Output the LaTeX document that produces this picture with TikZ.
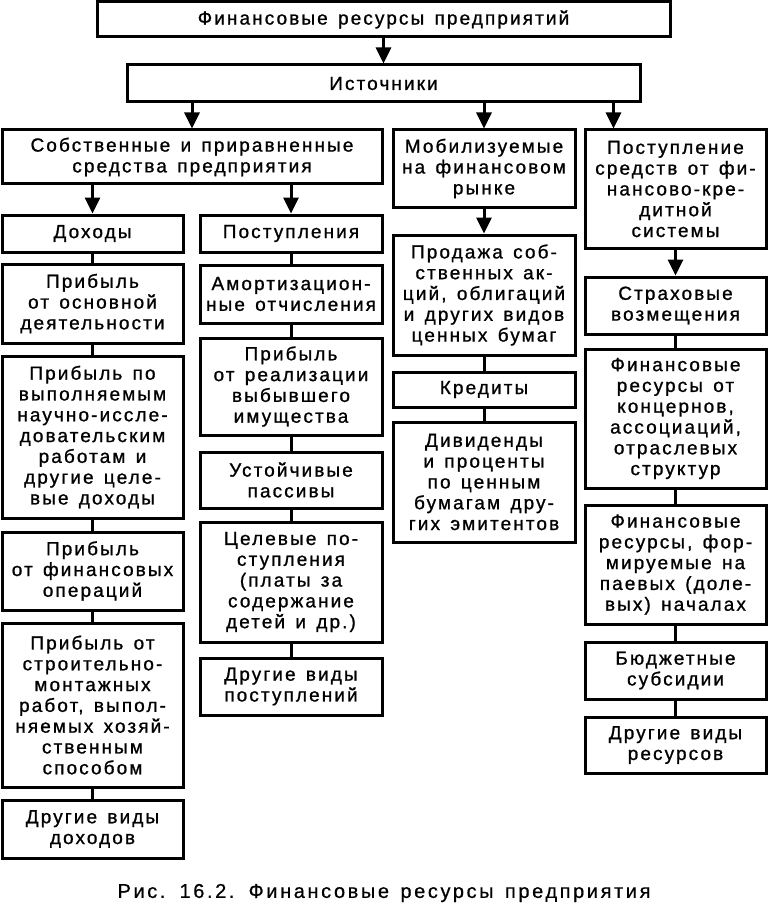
\documentclass[tikz,border=0pt]{standalone}
\usepackage{fontspec}
\setmainfont{Liberation Sans}
\newfontfamily\bodyfont{Liberation Sans}[LetterSpace=11, WordSpace=1.4, FakeBold=1]
\newfontfamily\capfont{Liberation Sans}[LetterSpace=13, WordSpace=1.4, FakeBold=0.6]
\usetikzlibrary{arrows.meta}
\tikzset{
  box/.style={draw, line width=3pt, align=center, inner sep=0pt,
    font=\bodyfont\fontsize{19}{20.8}\selectfont},
  conn/.style={line width=3pt},
  arr/.style={line width=3pt, -{Triangle[width=15pt,length=16pt]}},
  captext/.style={font=\capfont\fontsize{20}{22}\selectfont, inner sep=0pt}
}
\newcommand\bx[6]{\node[box, minimum width={(#4-#2)*1pt}, minimum height={(#5-#3)*1pt}] (#1) at ({(#2+#4)/2},{(#3+#5)/2}) {#6};}
\begin{document}
\begin{tikzpicture}[x=1pt,y=-1pt]
\useasboundingbox (0,0) rectangle (768,912);
\bx{top}{97}{2}{670}{37}{Финансовые ресурсы предприятий}
\bx{ist}{127}{65}{640}{102}{Источники}
\bx{sob}{2}{130}{382}{184}{Собственные и приравненные\\средства предприятия}
\bx{mob}{393}{130}{575}{207}{Мобилизуемые\\на финансовом\\рынке}
\bx{pst}{585}{130}{766}{248}{Поступление\\средств от фи-\\нансово-кре-\\дитной\\системы}
% column 1
\bx{doh}{2}{215}{183}{252}{Доходы}
\bx{pra}{2}{264}{183}{343}{Прибыль\\от основной\\деятельности}
\bx{prb}{2}{356}{183}{518}{Прибыль по\\выполняемым\\научно-иссле-\\довательским\\работам и\\другие целе-\\вые доходы}
\bx{prc}{2}{532}{183}{610}{Прибыль\\от финансовых\\операций}
\bx{prd}{2}{623}{183}{787}{Прибыль от\\строительно-\\монтажных\\работ, выпол-\\няемых хозяй-\\ственным\\способом}
\bx{dra}{2}{800}{183}{858}{Другие виды\\доходов}
% column 2
\bx{pos}{200}{215}{382}{252}{Поступления}
\bx{am}{200}{265}{382}{323}{Амортизацион-\\ные отчисления}
\bx{prr}{200}{338}{382}{435}{Прибыль\\от реализации\\выбывшего\\имущества}
\bx{ust}{200}{452}{382}{508}{Устойчивые\\пассивы}
\bx{cel}{200}{522}{382}{642}{Целевые по-\\ступления\\(платы за\\содержание\\детей и др.)}
\bx{drb}{200}{658}{382}{715}{Другие виды\\поступлений}
% column 3
\bx{prod}{393}{235}{575}{355}{Продажа соб-\\ственных ак-\\ций, облигаций\\и других видов\\ценных бумаг}
\bx{kred}{393}{372}{575}{407}{Кредиты}
\bx{div}{393}{422}{575}{542}{Дивиденды\\и проценты\\по ценным\\бумагам дру-\\гих эмитентов}
% column 4
\bx{str}{585}{277}{766}{334}{Страховые\\возмещения}
\bx{fk}{585}{349}{766}{488}{Финансовые\\ресурсы от\\концернов,\\ассоциаций,\\отраслевых\\структур}
\bx{fp}{585}{505}{766}{624}{Финансовые\\ресурсы, фор-\\мируемые на\\паевых (доле-\\вых) началах}
\bx{bud}{585}{642}{766}{699}{Бюджетные\\субсидии}
\bx{drc}{585}{717}{766}{773}{Другие виды\\ресурсов}
\node[captext] (cap) at (384,893) {Рис. 16.2. Финансовые ресурсы предприятия};
% arrows
\draw[arr] (top.south) -- (ist.north);
\draw[arr] (ist.south -| sob.north) -- (sob.north);
\draw[arr] (ist.south -| mob.north) -- (mob.north);
\coordinate (pin) at ([xshift=30pt]pst.north west);
\draw[arr] (ist.south -| pin) -- (pin);
\draw[arr] (sob.south -| doh.north) -- (doh.north);
\draw[arr] (sob.south -| pos.north) -- (pos.north);
\draw[arr] (mob.south) -- (prod.north);
\draw[arr] (pst.south -| str.north) -- (str.north);
% column lines
\draw[conn] (doh.south) -- (pra.north);
\draw[conn] (pra.south) -- (prb.north);
\draw[conn] (prb.south) -- (prc.north);
\draw[conn] (prc.south) -- (prd.north);
\draw[conn] (prd.south) -- (dra.north);
\draw[conn] (pos.south) -- (am.north);
\draw[conn] (am.south) -- (prr.north);
\draw[conn] (prr.south) -- (ust.north);
\draw[conn] (ust.south) -- (cel.north);
\draw[conn] (cel.south) -- (drb.north);
\draw[conn] (prod.south) -- (kred.north);
\draw[conn] (kred.south) -- (div.north);
\draw[conn] (str.south) -- (fk.north);
\draw[conn] (fk.south) -- (fp.north);
\draw[conn] (fp.south) -- (bud.north);
\draw[conn] (bud.south) -- (drc.north);
\end{tikzpicture}
\end{document}
